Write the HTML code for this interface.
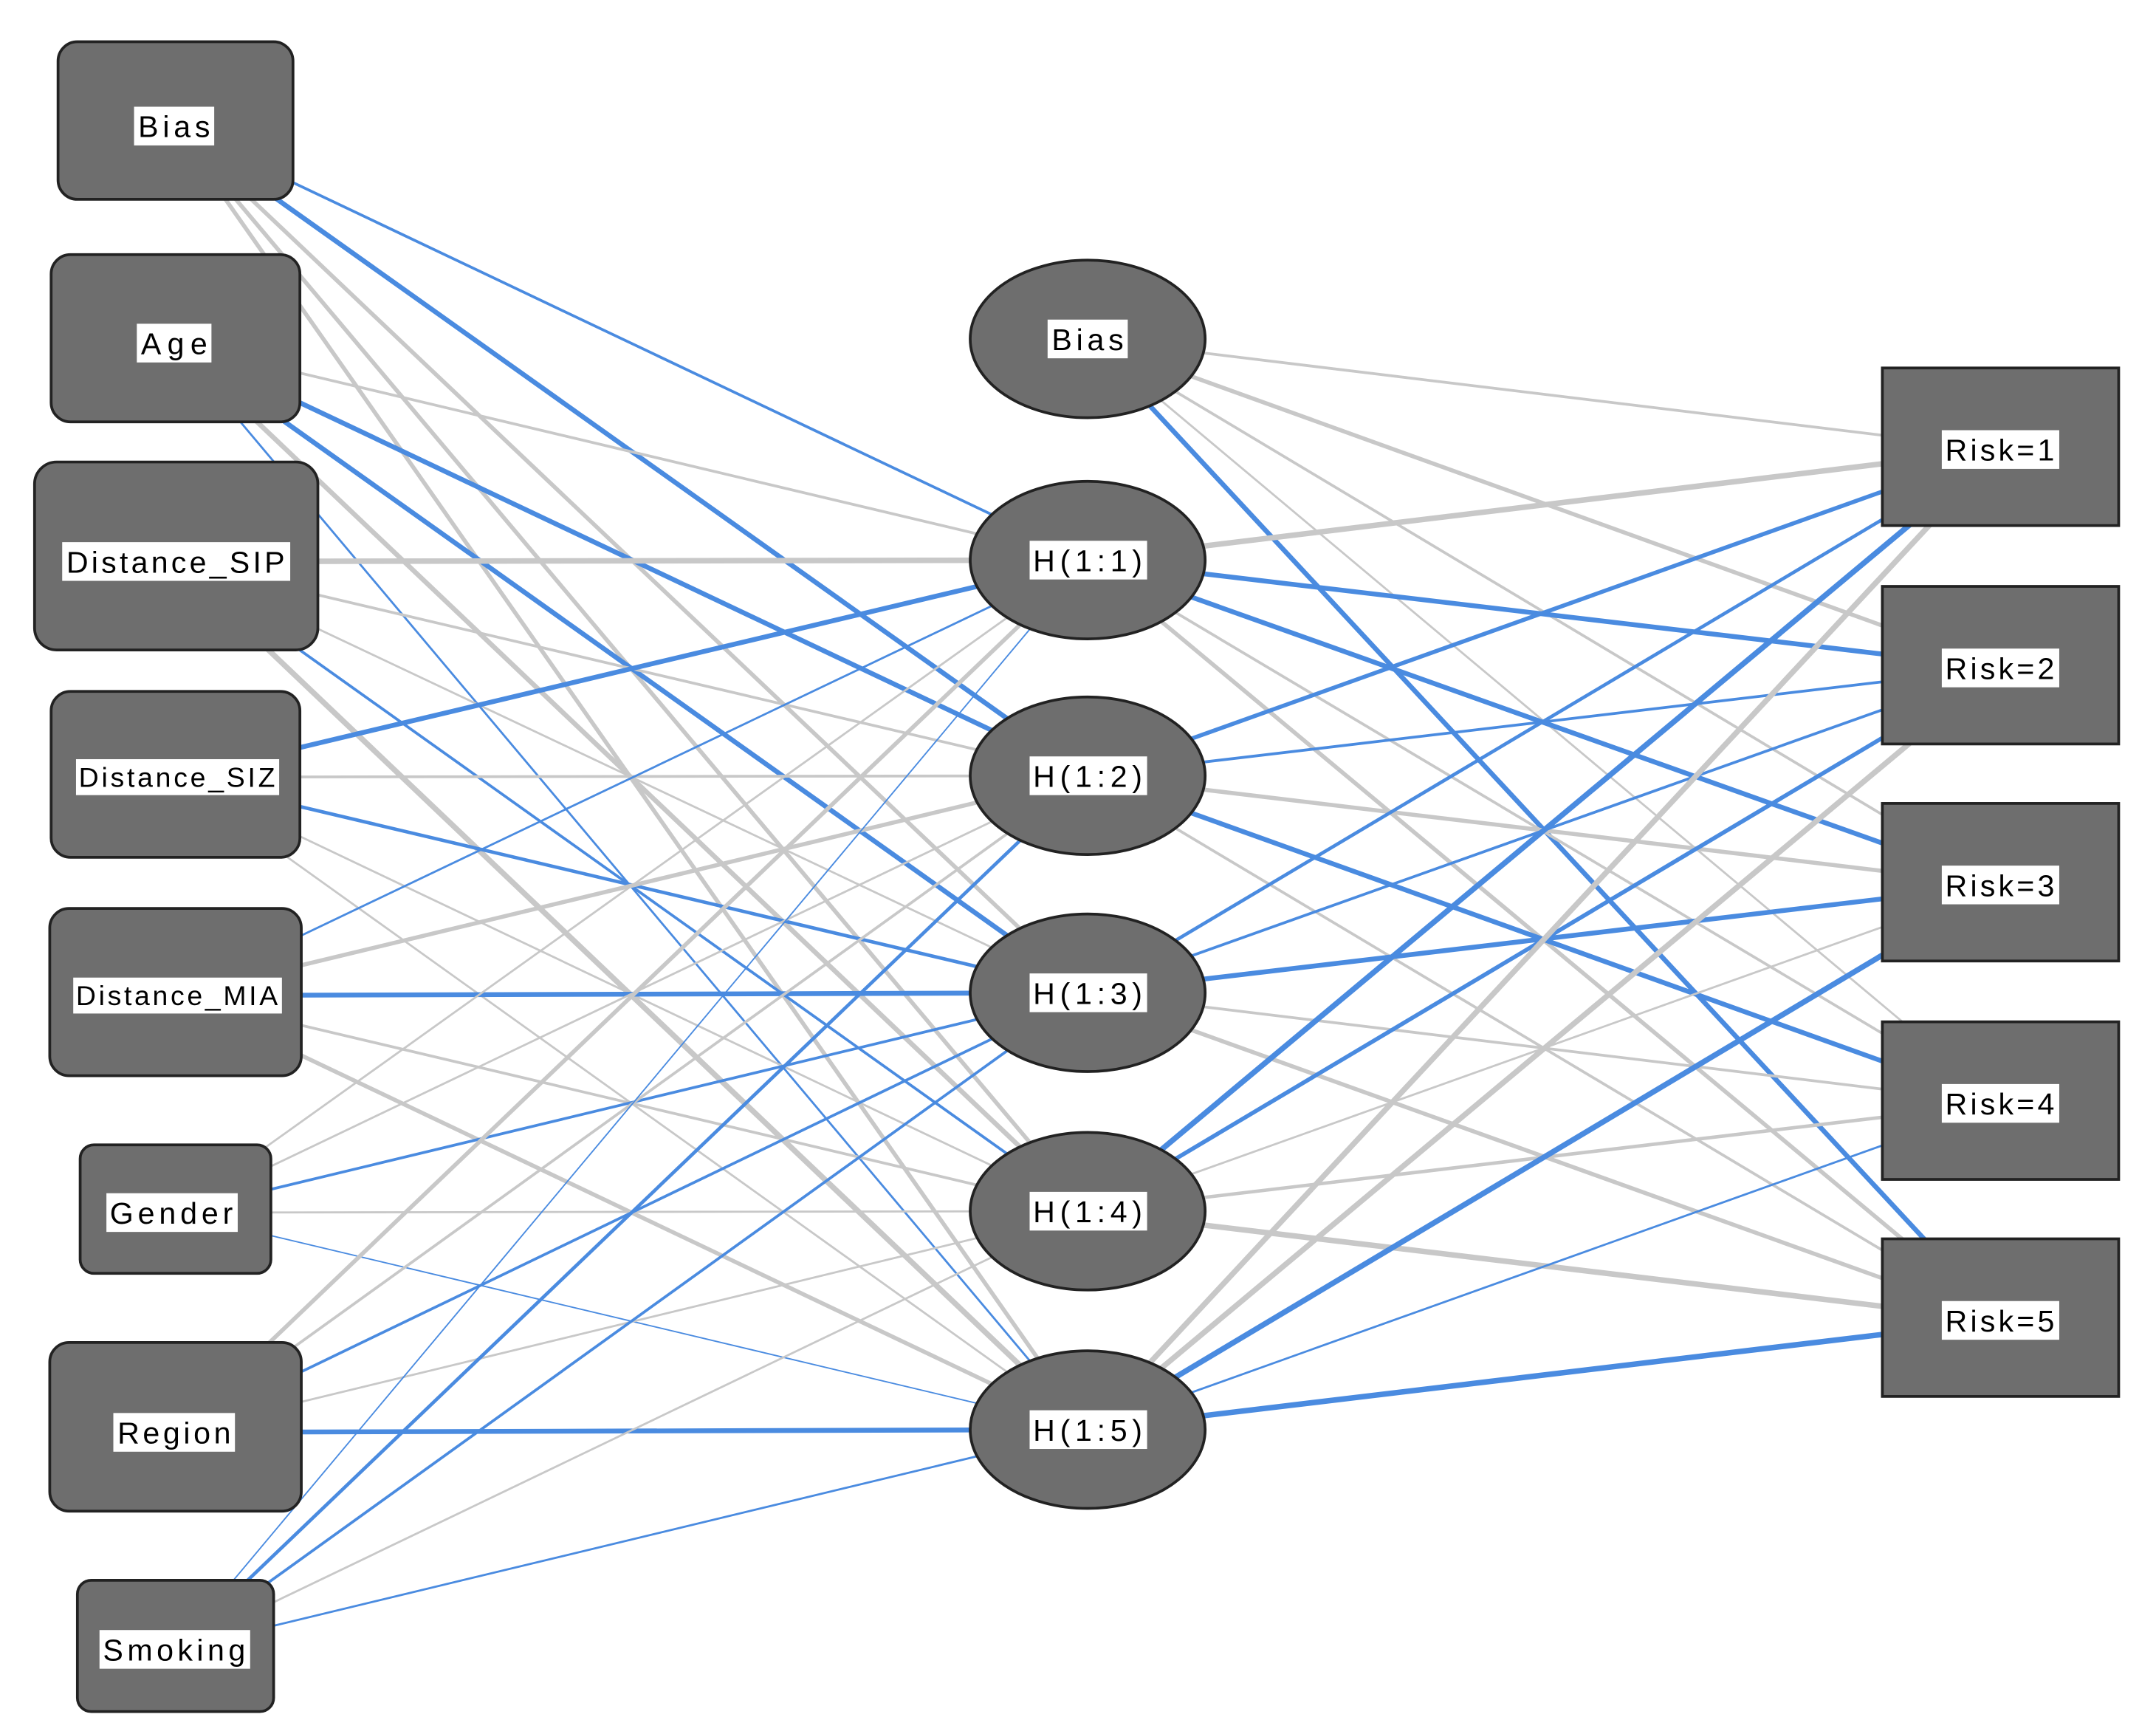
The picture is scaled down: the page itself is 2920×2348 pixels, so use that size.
<!DOCTYPE html>
<html><head><meta charset="utf-8"><style>html,body{margin:0;padding:0;background:#fff}svg{display:block}</style></head>
<body>
<svg width="2920" height="2348" viewBox="0 0 1560 1254" xmlns="http://www.w3.org/2000/svg" font-family="Liberation Sans, Arial, sans-serif">
<g stroke-linecap="butt">
<!-- input to hidden -->
<g id="ih">
<line x1="126" y1="91" x2="787" y2="405" stroke="#4a8be0" stroke-width="2"/>
<line x1="126" y1="91" x2="787" y2="561" stroke="#4a8be0" stroke-width="3.5"/>
<line x1="126" y1="91" x2="787" y2="718" stroke="#c8c8c8" stroke-width="3"/>
<line x1="126" y1="91" x2="787" y2="876" stroke="#c8c8c8" stroke-width="3"/>
<line x1="126" y1="91" x2="787" y2="1034" stroke="#c8c8c8" stroke-width="3"/>

<line x1="126" y1="248" x2="787" y2="405" stroke="#c8c8c8" stroke-width="2"/>
<line x1="126" y1="248" x2="787" y2="561" stroke="#4a8be0" stroke-width="3.5"/>
<line x1="126" y1="248" x2="787" y2="718" stroke="#4a8be0" stroke-width="3.5"/>
<line x1="126" y1="248" x2="787" y2="876" stroke="#c8c8c8" stroke-width="3.5"/>
<line x1="126" y1="248" x2="787" y2="1034" stroke="#4a8be0" stroke-width="1.5"/>

<line x1="127" y1="406" x2="787" y2="405" stroke="#c8c8c8" stroke-width="4"/>
<line x1="127" y1="406" x2="787" y2="561" stroke="#c8c8c8" stroke-width="2"/>
<line x1="127" y1="406" x2="787" y2="718" stroke="#c8c8c8" stroke-width="1.5"/>
<line x1="127" y1="406" x2="787" y2="876" stroke="#4a8be0" stroke-width="2"/>
<line x1="127" y1="406" x2="787" y2="1034" stroke="#c8c8c8" stroke-width="4"/>

<line x1="127" y1="562" x2="787" y2="405" stroke="#4a8be0" stroke-width="3.5"/>
<line x1="127" y1="562" x2="787" y2="561" stroke="#c8c8c8" stroke-width="2"/>
<line x1="127" y1="562" x2="787" y2="718" stroke="#4a8be0" stroke-width="2.5"/>
<line x1="127" y1="562" x2="787" y2="876" stroke="#c8c8c8" stroke-width="1.5"/>
<line x1="127" y1="562" x2="787" y2="1034" stroke="#c8c8c8" stroke-width="1.5"/>

<line x1="127" y1="720" x2="787" y2="405" stroke="#4a8be0" stroke-width="1.5"/>
<line x1="127" y1="720" x2="787" y2="561" stroke="#c8c8c8" stroke-width="3"/>
<line x1="127" y1="720" x2="787" y2="718" stroke="#4a8be0" stroke-width="3.5"/>
<line x1="127" y1="720" x2="787" y2="876" stroke="#c8c8c8" stroke-width="2"/>
<line x1="127" y1="720" x2="787" y2="1034" stroke="#c8c8c8" stroke-width="3"/>

<line x1="126" y1="877" x2="787" y2="405" stroke="#c8c8c8" stroke-width="1.5"/>
<line x1="126" y1="877" x2="787" y2="561" stroke="#c8c8c8" stroke-width="1.5"/>
<line x1="126" y1="877" x2="787" y2="718" stroke="#4a8be0" stroke-width="2"/>
<line x1="126" y1="877" x2="787" y2="876" stroke="#c8c8c8" stroke-width="1.5"/>
<line x1="126" y1="877" x2="787" y2="1034" stroke="#4a8be0" stroke-width="1"/>

<line x1="127" y1="1036" x2="787" y2="405" stroke="#c8c8c8" stroke-width="3"/>
<line x1="127" y1="1036" x2="787" y2="561" stroke="#c8c8c8" stroke-width="2"/>
<line x1="127" y1="1036" x2="787" y2="718" stroke="#4a8be0" stroke-width="2"/>
<line x1="127" y1="1036" x2="787" y2="876" stroke="#c8c8c8" stroke-width="1.5"/>
<line x1="127" y1="1036" x2="787" y2="1034" stroke="#4a8be0" stroke-width="3.5"/>

<line x1="127" y1="1193" x2="787" y2="405" stroke="#4a8be0" stroke-width="1"/>
<line x1="127" y1="1193" x2="787" y2="561" stroke="#4a8be0" stroke-width="2.5"/>
<line x1="127" y1="1193" x2="787" y2="718" stroke="#4a8be0" stroke-width="2"/>
<line x1="127" y1="1193" x2="787" y2="876" stroke="#c8c8c8" stroke-width="1.5"/>
<line x1="127" y1="1193" x2="787" y2="1034" stroke="#4a8be0" stroke-width="1.5"/>
</g>
<!-- hidden to output -->
<g>
<line x1="787" y1="245" x2="1447" y2="325" stroke="#c8c8c8" stroke-width="2"/>
<line x1="787" y1="245" x2="1447" y2="483" stroke="#c8c8c8" stroke-width="3"/>
<line x1="787" y1="245" x2="1447" y2="640" stroke="#c8c8c8" stroke-width="2"/>
<line x1="787" y1="245" x2="1447" y2="798" stroke="#c8c8c8" stroke-width="1.5"/>
<line x1="787" y1="245" x2="1447" y2="955" stroke="#4a8be0" stroke-width="3.5"/>

<line x1="787" y1="405" x2="1447" y2="325" stroke="#c8c8c8" stroke-width="4"/>
<line x1="787" y1="405" x2="1447" y2="483" stroke="#4a8be0" stroke-width="3.5"/>
<line x1="787" y1="405" x2="1447" y2="640" stroke="#4a8be0" stroke-width="3.5"/>
<line x1="787" y1="405" x2="1447" y2="798" stroke="#c8c8c8" stroke-width="2"/>
<line x1="787" y1="405" x2="1447" y2="955" stroke="#c8c8c8" stroke-width="3"/>

<line x1="787" y1="561" x2="1447" y2="325" stroke="#4a8be0" stroke-width="3"/>
<line x1="787" y1="561" x2="1447" y2="483" stroke="#4a8be0" stroke-width="2"/>
<line x1="787" y1="561" x2="1447" y2="640" stroke="#c8c8c8" stroke-width="3"/>
<line x1="787" y1="561" x2="1447" y2="798" stroke="#4a8be0" stroke-width="3.5"/>
<line x1="787" y1="561" x2="1447" y2="955" stroke="#c8c8c8" stroke-width="2"/>

<line x1="787" y1="718" x2="1447" y2="325" stroke="#4a8be0" stroke-width="2.5"/>
<line x1="787" y1="718" x2="1447" y2="483" stroke="#4a8be0" stroke-width="2"/>
<line x1="787" y1="718" x2="1447" y2="640" stroke="#4a8be0" stroke-width="3.5"/>
<line x1="787" y1="718" x2="1447" y2="798" stroke="#c8c8c8" stroke-width="2"/>
<line x1="787" y1="718" x2="1447" y2="955" stroke="#c8c8c8" stroke-width="3"/>

<line x1="787" y1="876" x2="1447" y2="325" stroke="#4a8be0" stroke-width="4"/>
<line x1="787" y1="876" x2="1447" y2="483" stroke="#4a8be0" stroke-width="3"/>
<line x1="787" y1="876" x2="1447" y2="640" stroke="#c8c8c8" stroke-width="1.5"/>
<line x1="787" y1="876" x2="1447" y2="798" stroke="#c8c8c8" stroke-width="2.5"/>
<line x1="787" y1="876" x2="1447" y2="955" stroke="#c8c8c8" stroke-width="4"/>

<line x1="787" y1="1034" x2="1447" y2="325" stroke="#c8c8c8" stroke-width="4"/>
<line x1="787" y1="1034" x2="1447" y2="483" stroke="#c8c8c8" stroke-width="4"/>
<line x1="787" y1="1034" x2="1447" y2="640" stroke="#4a8be0" stroke-width="4"/>
<line x1="787" y1="1034" x2="1447" y2="798" stroke="#4a8be0" stroke-width="1.5"/>
<line x1="787" y1="1034" x2="1447" y2="955" stroke="#4a8be0" stroke-width="4"/>
</g>
</g>
<!-- nodes -->
<g fill="#6e6e6e" stroke="#222" stroke-width="2">
<rect x="42" y="30" width="170" height="114" rx="14"/>
<rect x="37" y="184" width="180" height="121" rx="14"/>
<rect x="25" y="334" width="205" height="136" rx="16"/>
<rect x="37" y="500" width="180" height="120" rx="14"/>
<rect x="36" y="657" width="182" height="121" rx="14"/>
<rect x="58" y="828" width="138" height="93" rx="10"/>
<rect x="36" y="971" width="182" height="122" rx="14"/>
<rect x="56" y="1143" width="142" height="95" rx="10"/>
<ellipse cx="787" cy="245" rx="85" ry="57"/>
<ellipse cx="787" cy="405" rx="85" ry="57"/>
<ellipse cx="787" cy="561" rx="85" ry="57"/>
<ellipse cx="787" cy="718" rx="85" ry="57"/>
<ellipse cx="787" cy="876" rx="85" ry="57"/>
<ellipse cx="787" cy="1034" rx="85" ry="57"/>
<rect x="1362" y="266" width="171" height="114"/>
<rect x="1362" y="424" width="171" height="114"/>
<rect x="1362" y="581" width="171" height="114"/>
<rect x="1362" y="739" width="171" height="114"/>
<rect x="1362" y="896" width="171" height="114"/>
</g>
<!-- labels -->
<g fill="#fff">
<rect x="97" y="77" width="58" height="28"/>
<rect x="99" y="234" width="54" height="28"/>
<rect x="45" y="392" width="165" height="28"/>
<rect x="55" y="549" width="147" height="26"/>
<rect x="53" y="707" width="151" height="26"/>
<rect x="77" y="863" width="95" height="28"/>
<rect x="82" y="1022" width="88" height="28"/>
<rect x="72" y="1179" width="109" height="28"/>
<rect x="758" y="231" width="58" height="28"/>
<rect x="745" y="391" width="85" height="28"/>
<rect x="745" y="547" width="85" height="28"/>
<rect x="745" y="704" width="85" height="28"/>
<rect x="745" y="862" width="85" height="28"/>
<rect x="745" y="1020" width="85" height="28"/>
<rect x="1405" y="311" width="85" height="28"/>
<rect x="1405" y="469" width="85" height="28"/>
<rect x="1405" y="626" width="85" height="28"/>
<rect x="1405" y="784" width="85" height="28"/>
<rect x="1405" y="941" width="85" height="28"/>
</g>
<g fill="#000" font-size="22" text-anchor="middle" lengthAdjust="spacingAndGlyphs">
<text x="126" y="99" textLength="52">Bias</text>
<text x="126" y="256" textLength="48">Age</text>
<text x="127" y="414" textLength="158">Distance_SIP</text>
<text x="128" y="569" font-size="20" textLength="142">Distance_SIZ</text>
<text x="128" y="727" font-size="20" textLength="146">Distance_MIA</text>
<text x="124" y="885" textLength="89">Gender</text>
<text x="126" y="1044" textLength="82">Region</text>
<text x="126" y="1201" textLength="103">Smoking</text>
<text x="787" y="253" textLength="52">Bias</text>
<text x="787" y="413" textLength="79">H(1:1)</text>
<text x="787" y="569" textLength="79">H(1:2)</text>
<text x="787" y="726" textLength="79">H(1:3)</text>
<text x="787" y="884" textLength="79">H(1:4)</text>
<text x="787" y="1042" textLength="79">H(1:5)</text>
<text x="1447" y="333" textLength="79">Risk=1</text>
<text x="1447" y="491" textLength="79">Risk=2</text>
<text x="1447" y="648" textLength="79">Risk=3</text>
<text x="1447" y="806" textLength="79">Risk=4</text>
<text x="1447" y="963" textLength="79">Risk=5</text>
</g>
</svg>
</body></html>
